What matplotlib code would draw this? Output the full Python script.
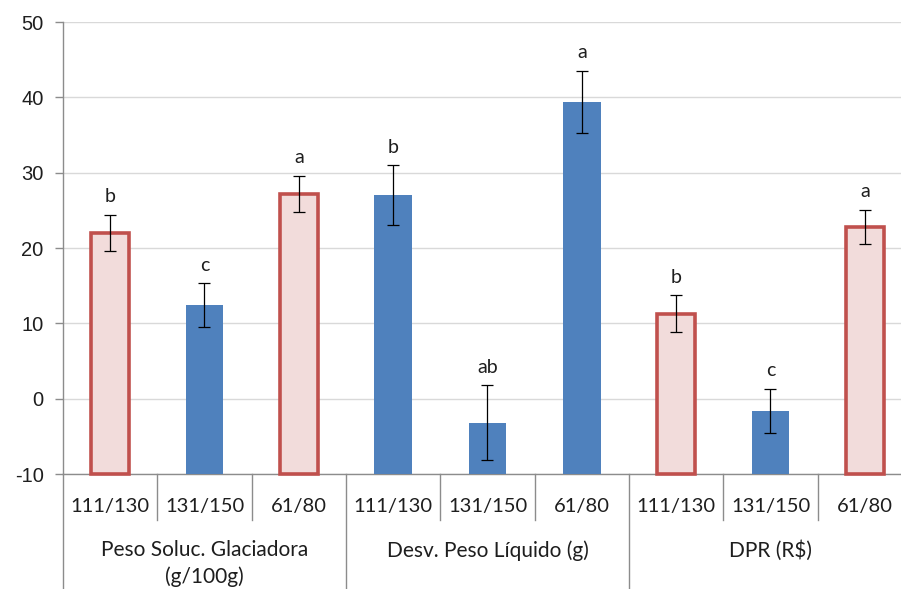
import numpy as np
import matplotlib.pyplot as plt
from matplotlib.transforms import blended_transform_factory

plt.rcParams['font.family'] = ['Lato', 'DejaVu Sans']
plt.rcParams['axes.unicode_minus'] = False

# Means, error half-widths and significance letters, three sizes per variable
groups = ['Peso Soluc. Glaciadora\n(g/100g)', 'Desv. Peso Líquido (g)', 'DPR (R$)']
sizes = ['111/130', '131/150', '61/80']
means = [22.0, 12.4, 27.2, 27.0, -3.2, 39.4, 11.3, -1.6, 22.8]
errors = [2.4, 2.9, 2.4, 4.0, 5.0, 4.1, 2.4, 2.9, 2.3]
letters = ['b', 'c', 'a', 'b', 'ab', 'a', 'b', 'c', 'a']

# which bars get the outlined (pink) style
outlined = [True, False, True, False, False, False, True, False, True]

ymin = -10
blue = '#4F81BD'
red_edge = '#C0504D'
pink = '#F2DCDB'
axis_grey = '#8C8C8C'
txt = '#1E1E1E'

W, H = 901, 589
fig = plt.figure(figsize=(W / 100, H / 100), dpi=100)
ax = fig.add_axes([63 / W, (H - 474) / H, 849 / W, 452 / H])

x = np.arange(len(means))
labels = sizes * len(groups)
heights = np.array(means) - ymin

for i in x:
    if outlined[i]:
        ax.bar(x[i], heights[i], bottom=ymin, width=0.4, color=pink,
               edgecolor=red_edge, linewidth=2.6, zorder=3, clip_on=False)
    else:
        ax.bar(x[i], heights[i], bottom=ymin, width=0.4, color=blue,
               edgecolor='none', zorder=3)

ax.errorbar(x, means, yerr=errors, fmt='none', ecolor='black',
            elinewidth=0.9, capsize=4, capthick=0.9, zorder=4)

for i in x:
    ax.annotate(letters[i], (x[i], means[i] + errors[i]),
                xytext=(0, 13), textcoords='offset points',
                ha='center', va='center', fontsize=14, color=txt)

ax.set_xlim(-0.5, len(means) - 0.5)
ax.set_ylim(ymin, 50)
ax.set_yticks(np.arange(-10, 51, 10))
ax.yaxis.grid(True, color='#D9D9D9', linewidth=1)
ax.set_axisbelow(True)
ax.tick_params(axis='y', length=6, width=1, color=axis_grey, pad=8,
               labelsize=14.5, labelcolor=txt)
for lab in ax.get_yticklabels():
    lab.set_family(['Liberation Sans', 'DejaVu Sans'])

ax.set_xticks(x)
ax.set_xticklabels(labels)
ax.tick_params(axis='x', length=0, pad=17, labelsize=14.5, labelcolor=txt)

for s in ['top', 'right']:
    ax.spines[s].set_visible(False)
for s in ['left', 'bottom']:
    ax.spines[s].set_color(axis_grey)
    ax.spines[s].set_linewidth(1)

# two-level category separators below the axis
trans = blended_transform_factory(ax.transData, ax.transAxes)
for b in np.arange(-0.5, len(means), 1.0):
    if (b + 0.5) % len(sizes) == 0:
        ax.plot([b, b], [0, -0.26], color=axis_grey, lw=1,
                transform=trans, clip_on=False)
    else:
        ax.plot([b, b], [0, -0.102], color=axis_grey, lw=1,
                transform=trans, clip_on=False)

for g, name in enumerate(groups):
    cx = g * len(sizes) + (len(sizes) - 1) / 2
    ax.text(cx, -0.146, name, transform=trans, ha='center', va='top',
            fontsize=15, color=txt, linespacing=1.4)

fig.savefig('out.png', dpi=100)
